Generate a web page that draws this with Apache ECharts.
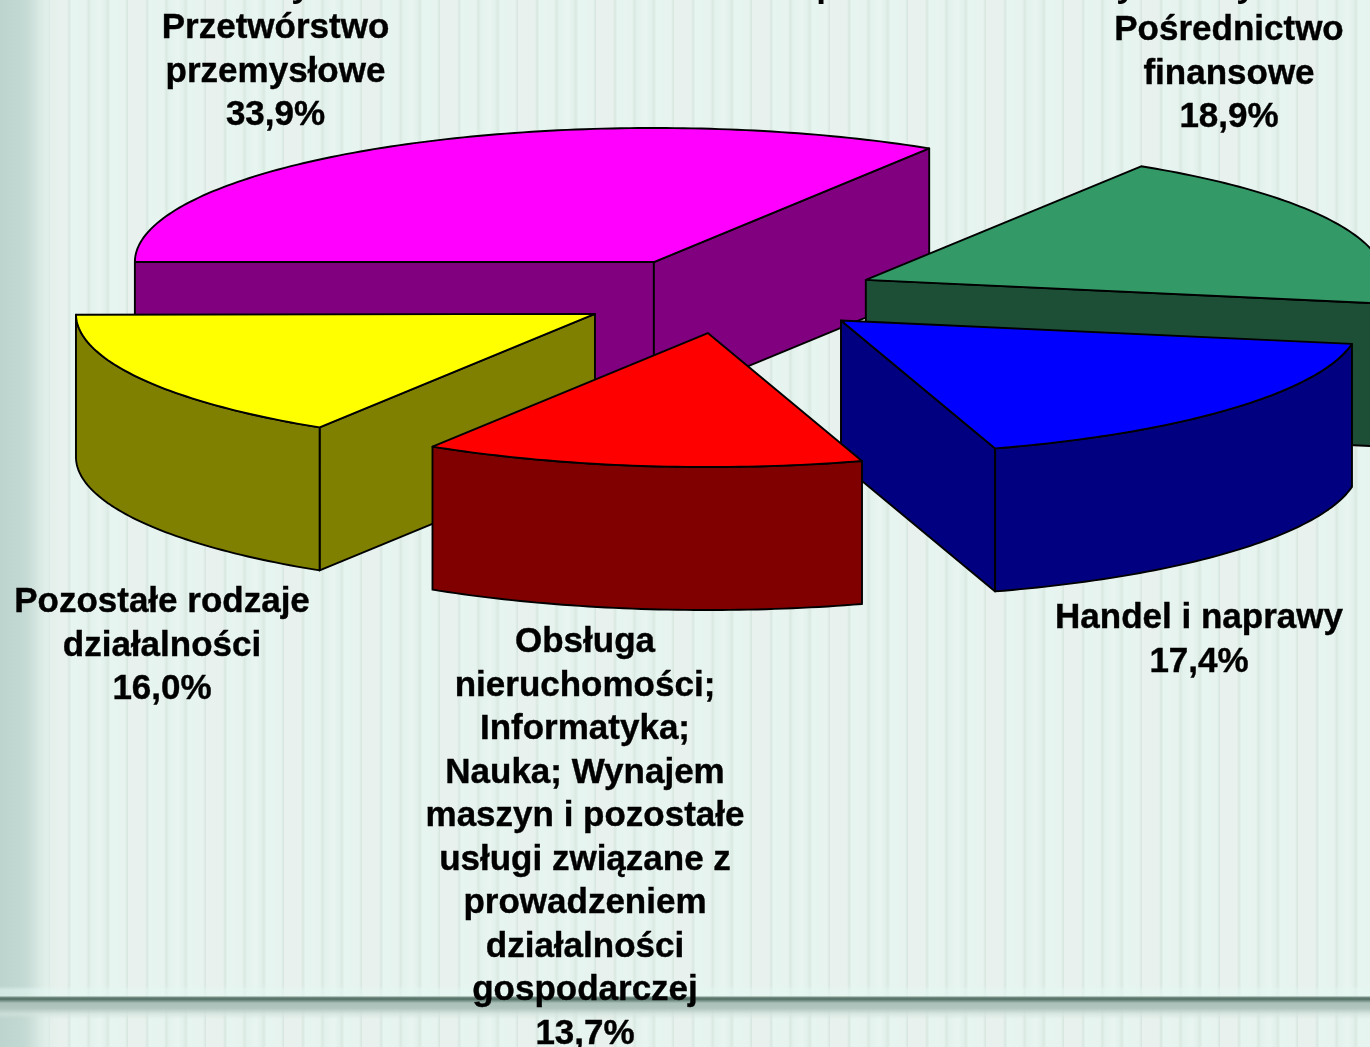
<!DOCTYPE html>
<html>
<head>
<meta charset="utf-8">
<style type="text/css">
	html,body{margin:0;padding:0;overflow:hidden}
	#main{
		width:1370px;height:1047px;
		background-color:#e8f2ee;
		background-image:
			linear-gradient(180deg,transparent 986px,rgba(228,248,243,.55) 990px,rgba(228,248,243,.55) 996px,#7b9489 997px,#4f6b61 999px,#7d978d 1001px,#a9c0b8 1003px,#b0c5be 1008px,rgba(210,226,220,.7) 1014px,transparent 1019px),
			linear-gradient(90deg,#bdd3cd 0,#c2d8d2 22px,#c8dcd6 28px,#d4e5e0 36px,rgba(224,238,233,.8) 46px,rgba(232,242,238,0) 60px),
			linear-gradient(90deg,#e8f1ed 0,#e8f1ed 17px,#d9e7e1 19px,#e7f5f0 21.5px,#e6f3ee 36px,#dbe9e3 38.5px,#e4f2ed 41px,#e8f5f0 50px,#e3f1ec 55px,#dbe9e3 58px,#e7f5f0 60.5px,#e6f3ee 75px,#d9e7e1 77.5px,#e8f1ed 78px);
		background-size:100% 100%,100% 100%,78px 100%;
		background-position:0 0,0 0,50px 0;
		background-repeat:no-repeat,no-repeat,repeat-x;
	}
</style>
</head>
<body>
<div id="main"></div>
<script src="https://cdn.jsdelivr.net/npm/echarts@6/dist/echarts.min.js"></script>
<script type="text/javascript">
var categories = [
	'Przetwórstwo\nprzemysłowe',
	'Pośrednictwo\nfinansowe',
	'Handel i naprawy',
	'Obsługa\nnieruchomości;\nInformatyka;\nNauka; Wynajem\nmaszyn i pozostałe\nusługi związane z\nprowadzeniem\ndziałalności\ngospodarczej',
	'Pozostałe rodzaje\ndziałalności'
];
var shares = [33.9, 18.9, 17.4, 13.7, 16.0];

var topColors = ['#ff00ff', '#339966', '#0000ff', '#ff0000', '#ffff00'];
var sideColors = ['#800080', '#1c4f36', '#000080', '#800000', '#808000'];
// kolejnosc rysowania: czerwony na wierzchu
var drawRank = [0, 1, 2, 4, 3];
// srodek pierwszej linii opisu
var labelX = [275.5, 1229, 1199, 585, 162];
var labelY = [26, 28, 616, 640, 600];

// ucięty tytuł - widać tylko dolne końce liter
var titleLetters = ['y', 'p', 'y', 'y'];
var titleLetterX = [301, 827, 1126, 1246];

var pie = {cx: 727.3, cy: 295.3, rx: 519, ry: 134, depth: 143, explodeX: 0.292, explodeY: 0.284, startAngle: 180};
var font = 'bold 35px "Liberation Sans", Arial, sans-serif';

function rad(deg){ return deg * Math.PI / 180; }

function arcPoints(x, y, from, to){
	var pts = [];
	var steps = Math.max(2, Math.ceil(Math.abs(from - to)));
	for (var i = 0; i <= steps; i++) {
		var t = rad(from + (to - from) * i / steps);
		pts.push([x + pie.rx * Math.cos(t), y - pie.ry * Math.sin(t)]);
	}
	return pts;
}

function renderSlice(params, api){
	var idx = params.dataIndex;
	var before = 0;
	for (var i = 0; i < idx; i++) before += shares[i];
	var from = pie.startAngle - before / 100 * 360;
	var to = from - api.value(0) / 100 * 360;
	var mid = rad((from + to) / 2);
	// wysuniecie wycinka wzdluz dwusiecznej
	var x = pie.cx + pie.explodeX * pie.rx * Math.cos(mid);
	var y = pie.cy - pie.explodeY * pie.ry * Math.sin(mid);
	var z2 = drawRank[idx] * 10;
	var children = [];

	function poly(points, color, z){
		children.push({
			type: 'polygon',
			z2: z,
			shape: {points: points},
			style: {fill: color, stroke: '#000', lineWidth: 1.9, lineJoin: 'round'}
		});
	}
	function radialFace(angle){
		var t = rad(angle);
		var ex = x + pie.rx * Math.cos(t), ey = y - pie.ry * Math.sin(t);
		poly([[x, y], [ex, ey], [ex, ey + pie.depth], [x, y + pie.depth]], sideColors[idx], z2);
	}

	if (Math.cos(rad(from)) < -1e-6) radialFace(from);
	if (Math.cos(rad(to)) > 1e-6) radialFace(to);

	// sciana zewnetrzna tylko dla przedniej polowy elipsy
	var bandFrom = Math.min(from, 0), bandTo = Math.max(to, -180);
	if (bandFrom > bandTo) {
		var upper = arcPoints(x, y, bandFrom, bandTo);
		var lower = arcPoints(x, y + pie.depth, bandTo, bandFrom);
		poly(upper.concat(lower), sideColors[idx], z2 + 1);
	}

	poly([[x, y]].concat(arcPoints(x, y, from, to)), topColors[idx], z2 + 2);

	children.push({
		type: 'text',
		z2: 100,
		style: {
			x: labelX[idx],
			y: labelY[idx] - 19,
			text: categories[idx] + '\n' + api.value(0).toFixed(1).replace('.', ',') + '%',
			font: font,
			fill: '#000',
			stroke: '#000',
			lineWidth: 0.4,
			align: 'center',
			verticalAlign: 'top',
			lineHeight: 43.5
		}
	});
	return {type: 'group', children: children};
}

var chart = echarts.init(document.getElementById('main'), null, {renderer: 'canvas'});
chart.setOption({
	animation: false,
	backgroundColor: 'transparent',
	graphic: titleLetters.map(function(ch, i){
		return {
			type: 'text',
			silent: true,
			x: titleLetterX[i],
			y: -13,
			style: {text: ch, font: font, fill: '#000', align: 'center', verticalAlign: 'middle'}
		};
	}),
	series: [{
		type: 'custom',
		coordinateSystem: 'none',
		silent: true,
		renderItem: renderSlice,
		data: shares.map(function(v){ return [v]; })
	}]
});
</script>
</body>
</html>
